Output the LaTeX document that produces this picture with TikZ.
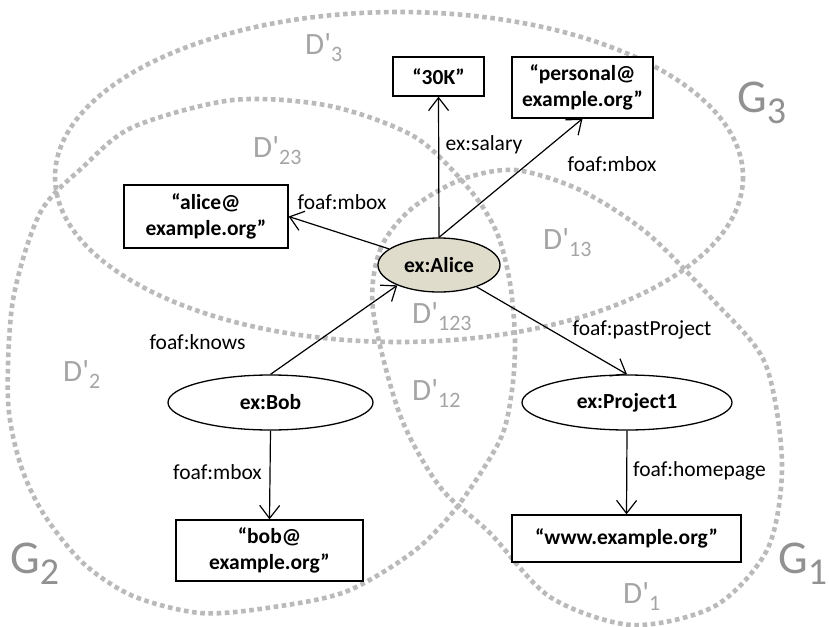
\documentclass[tikz,border=0pt]{standalone}
\usepackage{fontspec}
\setmainfont{Carlito}
\newfontfamily\labfont{Carlito}[Ligatures=TeXOff]
\usetikzlibrary{shapes.geometric,arrows.meta}
\definecolor{dotgray}{RGB}{186,186,186}
\definecolor{labgray}{RGB}{165,165,165}
\definecolor{biggray}{RGB}{145,145,145}
\definecolor{alicefill}{RGB}{224,220,204}
\newcommand\Dlab[1]{{\labfont\fontsize{31}{31}\selectfont D'\raisebox{-7pt}{\fontsize{22}{22}\selectfont #1}}}
\newcommand\Glab[1]{{\labfont\fontsize{47}{47}\selectfont G\raisebox{-11pt}{\fontsize{38}{38}\selectfont #1}}}
\begin{document}
\begin{tikzpicture}[x=1pt,y=-1pt,
  dotline/.style={draw=dotgray, line width=4.6pt, dash pattern=on 4.6pt off 3.6pt},
  litbox/.style={draw, line width=1.3pt, rectangle, inner sep=0pt, align=center, fill=white,
    font=\fontsize{21.5}{26}\selectfont\bfseries},
  resnode/.style={draw, line width=1.3pt, ellipse, inner sep=0pt, fill=white,
    font=\fontsize{21.5}{26}\selectfont\bfseries},
  edgelab/.style={font=\fontsize{21.5}{21.5}\selectfont, inner sep=0pt, anchor=base},
  arr/.style={line width=1.2pt, -{Straight Barb[length=13pt,width=20pt,line width=1.2pt]}},
  graylab/.style={text=labgray, inner sep=0pt, anchor=base west},
]
\useasboundingbox (0,0) rectangle (829,626);
\fill[white] (0,0) rectangle (829,626);

% graph regions
\draw[dotline] (399,177) ellipse [x radius=344, y radius=165];
\draw[dotline] plot[smooth cycle] coordinates {(8,400) (13,300) (40,213) (83,167) (133,127) (233,100) (330,106) (415,137) (470,190) (497,233) (510,283) (515,340) (512,390) (500,440) (457,507) (413,552) (345,592) (267,608) (200,613) (133,596) (83,563) (43,513) (20,463)};
\draw[dotline] plot[smooth cycle] coordinates {(373,310) (380,250) (410,210) (460,180) (515,170) (580,190) (647,233) (713,300) (765,363) (782,463) (768,548) (715,606) (632,625) (550,597) (490,533) (440,487) (400,415)};

% region labels
\node[graylab] (d3) at (305,55) {\Dlab{3}};
\node[graylab] (d23) at (253,157) {\Dlab{23}};
\node[graylab] (d13) at (543,249) {\Dlab{13}};
\node[graylab] (d123) at (412,323) {\Dlab{123}};
\node[graylab] (d12) at (412,400) {\Dlab{12}};
\node[graylab] (d2) at (63,381) {\Dlab{2}};
\node[graylab] (d1) at (623,603) {\Dlab{1}};
\node[graylab, text=biggray] (g3) at (737,112) {\Glab{3}};
\node[graylab, text=biggray] (g2) at (10,573) {\Glab{2}};
\node[graylab, text=biggray] (g1) at (778,573) {\Glab{1}};

% nodes
\node[litbox, minimum width=91pt, minimum height=39pt] (k30) at (438.5,76.5) {“30K”};
\node[litbox, minimum width=141pt, minimum height=61pt] (pers) at (582.5,87.5) {“personal@\\example.org”};
\node[litbox, minimum width=164pt, minimum height=63pt] (abox) at (206,216.5) {“alice@\\example.org”};
\node[litbox, minimum width=187pt, minimum height=61pt] (bbox) at (269.5,550.5) {“bob@\\example.org”};
\node[litbox, minimum width=229pt, minimum height=47pt] (www) at (626.5,538.5) {“www.example.org”};
\node[resnode, fill=alicefill, minimum width=122pt, minimum height=54pt] (alice) at (439,265) {ex:Alice};
\node[resnode, minimum width=205pt, minimum height=55pt] (bob) at (270.5,402.5) {ex:Bob};
\node[resnode, minimum width=210pt, minimum height=55pt] (proj) at (627,402.5) {ex:Project1};

% edges
\draw[arr] (alice.north) -- (k30.south);
\draw[arr] (alice.north) -- (pers.south);
\draw[arr] (alice) -- (abox.east);
\draw[arr] (bob.north) -- (alice.-154);
\draw[arr] (alice) -- (proj.north);
\draw[arr] (bob.south) -- (bbox.north);
\draw[arr] (proj.south) -- (www.north);

% edge labels
\node[edgelab] (lsal) at (484,150) {ex:salary};
\node[edgelab] (lmb1) at (612,171) {foaf:mbox};
\node[edgelab] (lmb2) at (342,209) {foaf:mbox};
\node[edgelab] (lkn) at (197.5,349) {foaf:knows};
\node[edgelab] (lmb3) at (217.5,479) {foaf:mbox};
\node[edgelab] (lpp) at (642,335) {foaf:pastProject};
\node[edgelab] (lhp) at (699.5,476) {foaf:homepage};
\end{tikzpicture}
\end{document}
